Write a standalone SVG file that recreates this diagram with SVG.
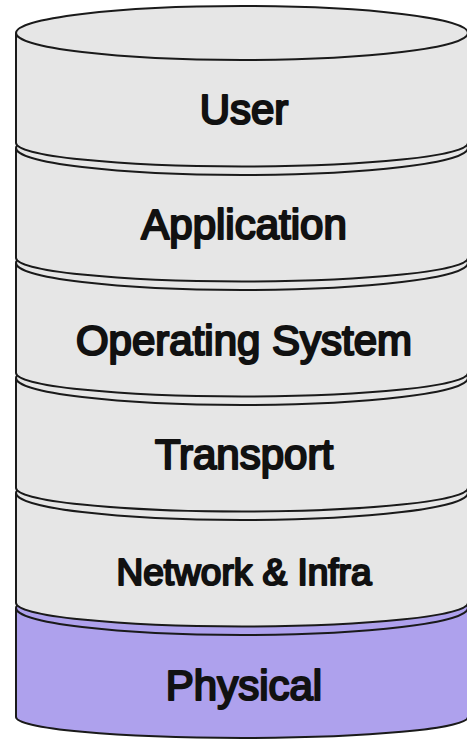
<svg xmlns="http://www.w3.org/2000/svg" width="467" height="740" viewBox="0 0 467 740">
  <style>
    .body { fill: #e6e6e6; stroke: #1a1a1a; stroke-width: 2; stroke-linejoin: round; }
    .phys { fill: #aea1ed; }
    .rim { fill: none; stroke: #1a1a1a; stroke-width: 2; }
    .lbl { font-family: "Liberation Sans", Arial, sans-serif; font-size: 42px; fill: #111; stroke: #111; stroke-width: 2.2; stroke-linejoin: round; text-anchor: middle; }
    .sm { font-size: 37px; }
  </style>
  <rect width="467" height="740" fill="#ffffff"/>
  <g id="physical">
    <path class="body phys" d="M16,608 A226,27 0 0 1 468,608 L468,717 A226,21 0 0 1 16,717 Z"/>
    <path class="rim" d="M16,608 A226,27 0 0 0 468,608"/>
    <text class="lbl" x="244" y="700">Physical</text>
  </g>
  <g id="network">
    <path class="body" d="M16,493 A226,27 0 0 1 468,493 L468,603 A226,23.5 0 0 1 16,603 Z"/>
    <path class="rim" d="M16,493 A226,27 0 0 0 468,493"/>
    <text class="lbl sm" x="244" y="585">Network &amp; Infra</text>
  </g>
  <g id="transport">
    <path class="body" d="M16,378 A226,27 0 0 1 468,378 L468,488 A226,23.5 0 0 1 16,488 Z"/>
    <path class="rim" d="M16,378 A226,27 0 0 0 468,378"/>
    <text class="lbl" x="244" y="469">Transport</text>
  </g>
  <g id="os">
    <path class="body" d="M16,263 A226,27 0 0 1 468,263 L468,373 A226,23.5 0 0 1 16,373 Z"/>
    <path class="rim" d="M16,263 A226,27 0 0 0 468,263"/>
    <text class="lbl" x="244" y="355">Operating System</text>
  </g>
  <g id="application">
    <path class="body" d="M16,148 A226,27 0 0 1 468,148 L468,258 A226,23.5 0 0 1 16,258 Z"/>
    <path class="rim" d="M16,148 A226,27 0 0 0 468,148"/>
    <text class="lbl" x="244" y="239">Application</text>
  </g>
  <g id="user">
    <path class="body" d="M16,33 A226,27 0 0 1 468,33 L468,143 A226,23.5 0 0 1 16,143 Z"/>
    <path class="rim" d="M16,33 A226,27 0 0 0 468,33"/>
    <text class="lbl" x="244" y="124">User</text>
  </g>
  <g id="connectors"></g>
</svg>
